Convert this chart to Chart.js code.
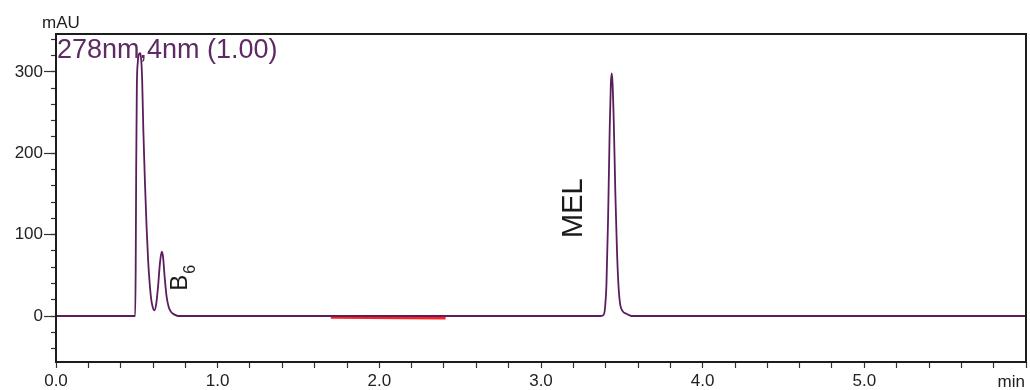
<!DOCTYPE html>
<html>
<head>
<meta charset="utf-8">
<script src="https://cdn.jsdelivr.net/npm/chart.js@4.4.1/dist/chart.umd.min.js"></script>
<style>
  html, body { margin: 0; padding: 0; background: #ffffff; }
  #wrap { width: 1030px; height: 390px; }
</style>
</head>
<body>
<div id="wrap"><canvas id="c" width="1030" height="390"></canvas></div>
<script>
// ---- data ----
const channelLabel = '278nm,4nm (1.00)';
const yUnit = 'mAU';
const xUnit = 'min';
const xMajorTicks = [0, 1, 2, 3, 4, 5];
const yMajorTicks = [0, 100, 200, 300];

// retention time (min)
const traceTime = [
  0.000, 0.490, 0.493, 0.496, 0.500, 0.506, 0.514, 0.521, 0.527, 0.533,
  0.540, 0.550, 0.561, 0.570, 0.578, 0.588, 0.598, 0.609, 0.620, 0.632,
  0.643, 0.654, 0.662, 0.672, 0.684, 0.697, 0.712, 0.730, 0.755, 1.500,
  2.500, 3.370, 3.385, 3.395, 3.405, 3.415, 3.425, 3.432, 3.437, 3.442,
  3.450, 3.460, 3.470, 3.480, 3.490, 3.505, 3.525, 3.545, 3.560, 6.000
];
// absorbance (mAU)
const traceSignal = [
  0, 0, 60, 180, 280, 312, 322, 323, 315, 290,
  230, 165, 106, 68, 44, 22, 11, 7, 15, 38,
  65, 79, 73, 48, 24, 11, 5, 2, 0, 0,
  0, 0, 1, 8, 40, 120, 230, 285, 298, 288,
  240, 150, 80, 35, 14, 6, 3, 1, 0, 0
];
// red baseline-segment marker
const markerTime = [1.70, 2.41];
const markerSignal = [-1.5, -2.6];

// peak annotations
const peakNames = ['B', 'MEL'];
const peakSubs = ['6', ''];

const tracePoints = traceTime.map((t, i) => ({ x: t, y: traceSignal[i] }));
const markerPoints = markerTime.map((t, i) => ({ x: t, y: markerSignal[i] }));

const FONT = "'Liberation Sans', Arial, sans-serif";

const isMult = (v, m) => Math.abs(v / m - Math.round(v / m)) < 1e-6;

const whiteBg = {
  id: 'whiteBg',
  beforeDraw(chart) {
    const ctx = chart.ctx;
    ctx.save();
    ctx.fillStyle = '#ffffff';
    ctx.fillRect(0, 0, chart.width, chart.height);
    ctx.restore();
  }
};

const decor = {
  id: 'decor',
  afterDraw(chart) {
    const ctx = chart.ctx;
    const a = chart.chartArea;
    const xs = chart.scales.x, ys = chart.scales.y;
    ctx.save();
    // frame
    ctx.strokeStyle = '#1c1c1c';
    ctx.lineWidth = 2;
    ctx.strokeRect(a.left, a.top, a.right - a.left, a.bottom - a.top);

    // channel label
    ctx.fillStyle = '#5e2a63';
    ctx.font = '27px ' + FONT;
    ctx.textBaseline = 'alphabetic';
    ctx.textAlign = 'left';
    ctx.fillText(channelLabel, a.left + 1, a.top + 24);

    // units
    ctx.fillStyle = '#222222';
    ctx.font = '17px ' + FONT;
    ctx.fillText(yUnit, 42, 28);
    ctx.textAlign = 'right';
    ctx.fillText(xUnit, xs.getPixelForValue(6) - 1, 387);

    // peak names (rotated)
    ctx.fillStyle = '#1a1a1a';
    // B6
    ctx.save();
    ctx.translate(xs.getPixelForValue(0.812), ys.getPixelForValue(31));
    ctx.rotate(-Math.PI / 2);
    ctx.textAlign = 'left';
    ctx.font = '24px ' + FONT;
    ctx.fillText(peakNames[0], 0, 0);
    const w = ctx.measureText(peakNames[0]).width;
    ctx.font = '16px ' + FONT;
    ctx.fillText(peakSubs[0], w + 1, 8);
    ctx.restore();
    // MEL
    ctx.save();
    ctx.translate(xs.getPixelForValue(3.255), ys.getPixelForValue(96));
    ctx.rotate(-Math.PI / 2);
    ctx.textAlign = 'left';
    ctx.font = '29px ' + FONT;
    ctx.fillText(peakNames[1], 0, 0);
    ctx.restore();

    ctx.restore();
  }
};

new Chart(document.getElementById('c'), {
  type: 'line',
  data: {
    datasets: [
      {
        label: 'marker',
        data: markerPoints,
        borderColor: 'rgba(255,20,20,0.95)',
        borderWidth: 2.8,
        pointRadius: 0,
        fill: false,
        order: 2
      },
      {
        label: channelLabel,
        data: tracePoints,
        borderColor: '#5a1e5c',
        borderWidth: 1.8,
        pointRadius: 0,
        fill: false,
        cubicInterpolationMode: 'monotone',
        order: 1
      }
    ]
  },
  options: {
    responsive: false,
    animation: false,
    devicePixelRatio: 1,
    layout: { padding: { top: 34, right: 4, left: 0, bottom: 0 } },
    plugins: {
      legend: { display: false },
      tooltip: { enabled: false },
      title: { display: false }
    },
    scales: {
      x: {
        type: 'linear',
        min: 0,
        max: 6,
        border: { display: false },
        grid: { drawOnChartArea: false, drawTicks: true, tickLength: 6, tickColor: '#333333', tickWidth: 1.2 },
        ticks: {
          stepSize: 0.2,
          autoSkip: false,
          maxRotation: 0,
          padding: 3,
          color: '#222222',
          font: { family: FONT, size: 17 },
          callback: (v) => {
            const r = Math.round(v);
            return (Math.abs(v - r) < 1e-6 && xMajorTicks.includes(r)) ? r.toFixed(1) : '';
          }
        },
        afterFit: (s) => { s.height = 28; }
      },
      y: {
        type: 'linear',
        position: 'left',
        weight: 0,
        min: -56.5,
        max: 346.5,
        border: { display: false },
        grid: {
          drawOnChartArea: false, drawTicks: true, tickLength: 5, tickWidth: 1.2,
          tickColor: (c) => (c.tick && isMult(c.tick.value, 20)) ? '#333333' : 'rgba(0,0,0,0)'
        },
        ticks: { stepSize: 20, includeBounds: false, display: false },
        afterFit: (s) => { s.width = 0; }
      },
      y2: {
        type: 'linear',
        position: 'left',
        weight: 1,
        min: -56.5,
        max: 346.5,
        border: { display: false },
        grid: {
          drawOnChartArea: false, drawTicks: true, tickLength: 12, tickWidth: 1.2,
          tickColor: (c) => (c.tick && yMajorTicks.some(m => Math.abs(c.tick.value - m) < 1e-6)) ? '#333333' : 'rgba(0,0,0,0)'
        },
        ticks: {
          stepSize: 20,
          includeBounds: false,
          autoSkip: false,
          padding: 1,
          color: '#222222',
          font: { family: FONT, size: 17 },
          callback: (v) => yMajorTicks.some(m => Math.abs(v - m) < 1e-6) ? String(Math.round(v)) : ''
        },
        afterFit: (s) => { s.width = 56; }
      }
    }
  },
  plugins: [whiteBg, decor]
});
</script>
</body>
</html>
